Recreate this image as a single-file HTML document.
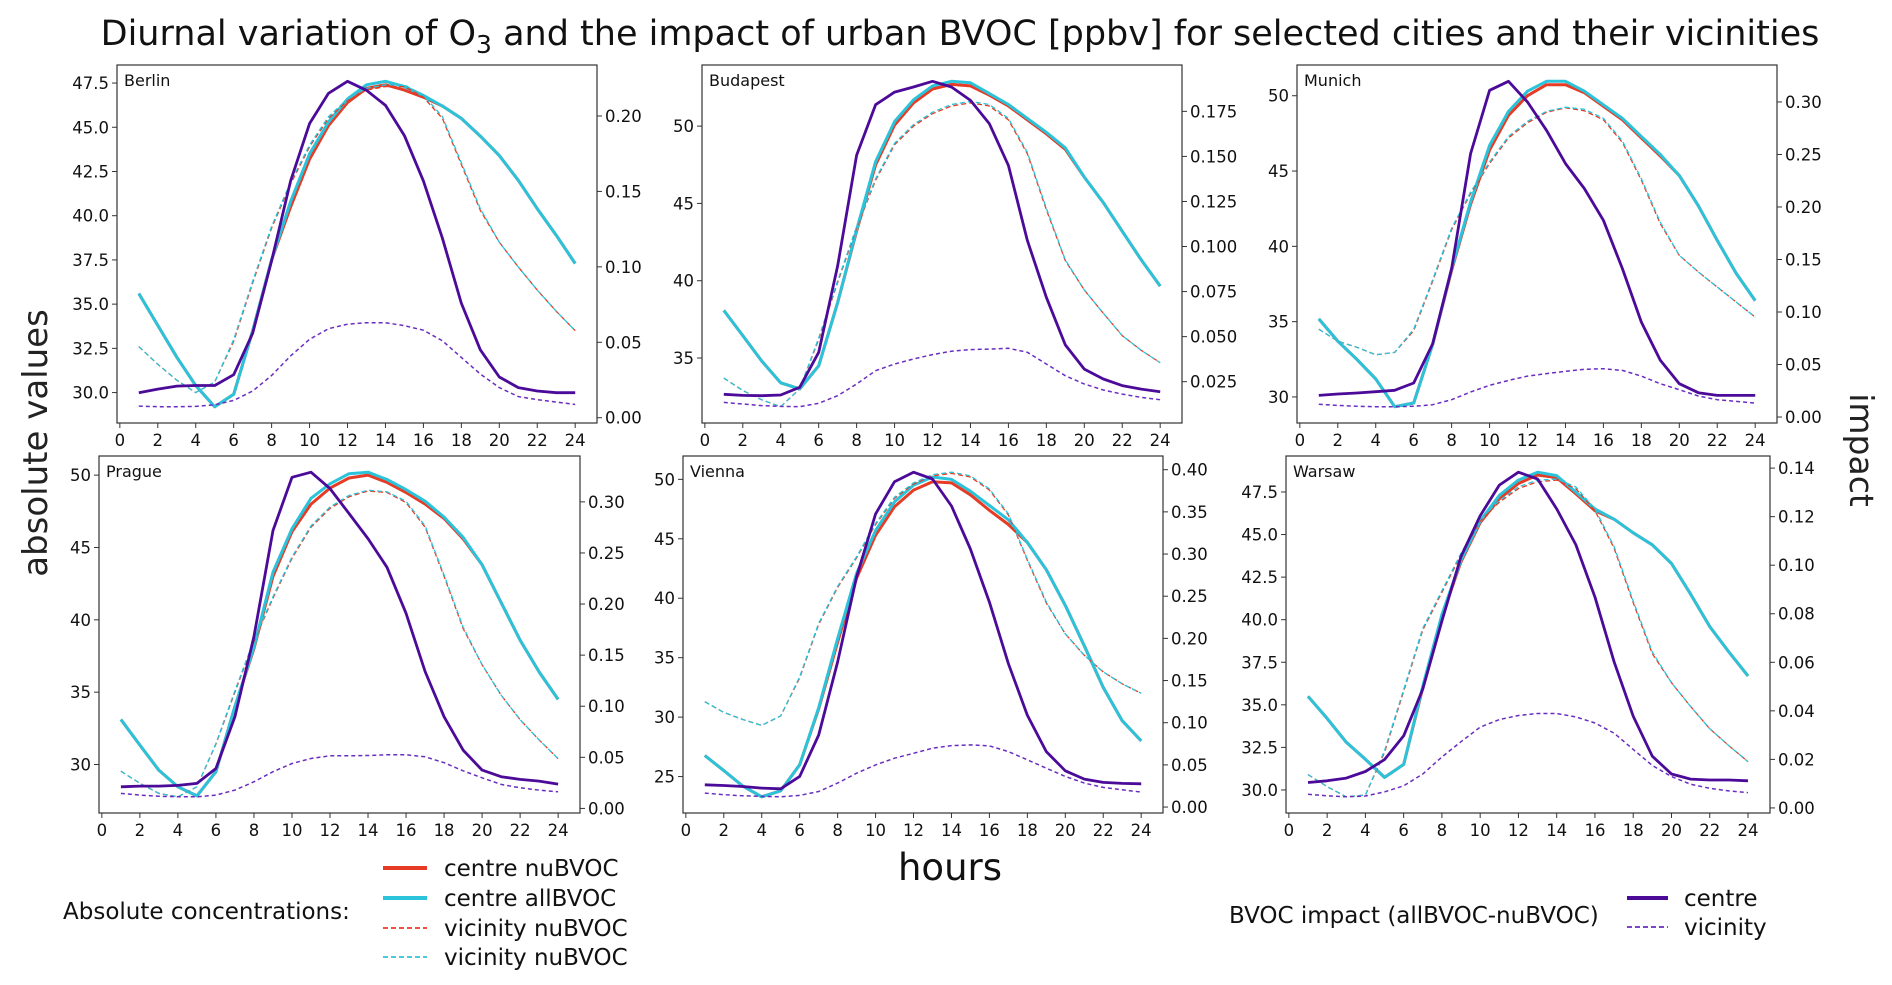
<!DOCTYPE html>
<html><head><meta charset="utf-8"><style>
body{margin:0;background:#fff;}
svg{display:block;font-family:"DejaVu Sans","Liberation Sans",sans-serif;}
</style></head><body>
<svg id="fig" width="1892" height="985" viewBox="0 0 1892 985" xmlns="http://www.w3.org/2000/svg">
<text x="960" y="45" font-size="35" text-anchor="middle" fill="#111">Diurnal variation of O<tspan font-size="25" dy="8">3</tspan><tspan dy="-8"> and the impact of urban BVOC [ppbv] for selected cities and their vicinities</tspan></text>
<text transform="translate(47,443) rotate(-90)" font-size="34" text-anchor="middle" fill="#222">absolute values</text>
<text transform="translate(1850,450) rotate(90)" font-size="33" text-anchor="middle" fill="#222">impact</text>
<text x="950" y="880" font-size="37" text-anchor="middle" fill="#111">hours</text>
<g>
<text x="63" y="919" font-size="23" fill="#111">Absolute concentrations:</text>
<g><line x1="383" y1="868" x2="427" y2="868" stroke="#e63b24" stroke-width="4"/><text x="444" y="876" font-size="23" fill="#111">centre nuBVOC</text></g>
<g><line x1="383" y1="898" x2="427" y2="898" stroke="#2bc3da" stroke-width="4"/><text x="444" y="906" font-size="23" fill="#111">centre allBVOC</text></g>
<g><line x1="383" y1="928" x2="427" y2="928" stroke="#e63b24" stroke-width="1.8" stroke-dasharray="5,3"/><text x="444" y="936" font-size="23" fill="#111">vicinity nuBVOC</text></g>
<g><line x1="383" y1="957" x2="427" y2="957" stroke="#2bc3da" stroke-width="1.8" stroke-dasharray="5,3"/><text x="444" y="965" font-size="23" fill="#111">vicinity nuBVOC</text></g>
</g>
<g>
<text x="1229" y="923" font-size="23" fill="#111">BVOC impact (allBVOC-nuBVOC)</text>
<g><line x1="1627" y1="898" x2="1668" y2="898" stroke="#4c0a99" stroke-width="4"/><text x="1684" y="906" font-size="23" fill="#111">centre</text></g>
<g><line x1="1627" y1="927" x2="1668" y2="927" stroke="#6a2dc0" stroke-width="1.8" stroke-dasharray="5,3"/><text x="1684" y="935" font-size="23" fill="#111">vicinity</text></g>
</g>
</svg>
<script>
const hours = [1,2,3,4,5,6,7,8,9,10,11,12,13,14,15,16,17,18,19,20,21,22,23,24];
const xTicks = [0,2,4,6,8,10,12,14,16,18,20,22,24];
const cities = ["Berlin","Budapest","Munich","Prague","Vienna","Warsaw"];

const berlinCentreAll = [35.6,33.8,32.0,30.4,29.2,29.9,33.5,37.5,40.8,43.5,45.3,46.6,47.4,47.6,47.3,46.8,46.2,45.5,44.5,43.4,42.0,40.4,38.9,37.3];
const berlinCentreNu  = [35.6,33.8,32.0,30.4,29.2,29.9,33.5,37.5,40.5,43.2,45.1,46.4,47.2,47.4,47.1,46.7,46.2,45.5,44.5,43.4,42.0,40.4,38.9,37.3];
const berlinVicAll    = [32.6,31.6,30.7,30.0,30.6,33.0,36.3,39.4,41.9,44.0,45.6,46.6,47.2,47.4,47.4,46.8,45.6,43.0,40.4,38.5,37.1,35.8,34.6,33.5];
const berlinVicNu     = [32.6,31.6,30.7,30.0,30.6,32.9,36.2,39.3,41.8,43.9,45.5,46.5,47.1,47.3,47.3,46.7,45.5,42.9,40.3,38.5,37.1,35.8,34.6,33.5];
const berlinImpCentre = [0.0166,0.019,0.021,0.0214,0.0214,0.0285,0.056,0.104,0.157,0.195,0.215,0.223,0.217,0.207,0.187,0.157,0.119,0.076,0.045,0.027,0.020,0.0177,0.0166,0.0166];
const berlinImpVic    = [0.0077,0.0073,0.0073,0.0075,0.0086,0.0115,0.0177,0.028,0.041,0.052,0.059,0.062,0.063,0.063,0.061,0.058,0.051,0.040,0.029,0.020,0.014,0.012,0.0104,0.0088];

const budapestCentreAll = [38.08,36.45,34.8,33.4,33.0,34.5,38.6,43.3,47.7,50.3,51.7,52.6,52.9,52.8,52.1,51.4,50.5,49.6,48.6,46.7,45.05,43.2,41.35,39.65];
const budapestCentreNu  = [38.08,36.45,34.8,33.4,33.0,34.5,38.6,43.2,47.5,50.07,51.5,52.4,52.7,52.6,52.0,51.3,50.4,49.5,48.5,46.7,45.05,43.2,41.35,39.65];
const budapestVicAll    = [33.7,32.9,32.3,31.85,33.0,36.3,40.0,43.5,46.6,48.9,50.1,50.9,51.4,51.6,51.4,50.5,48.3,44.7,41.35,39.4,37.9,36.45,35.5,34.7];
const budapestVicNu     = [33.7,32.9,32.3,31.85,33.0,36.2,39.9,43.4,46.5,48.8,50.0,50.8,51.3,51.5,51.3,50.4,48.2,44.6,41.3,39.4,37.9,36.45,35.5,34.7];
const budapestImpCentre = [0.018,0.0174,0.0172,0.0176,0.0219,0.0413,0.0894,0.1506,0.1787,0.1857,0.1885,0.1917,0.1885,0.1811,0.1681,0.145,0.1033,0.0719,0.0454,0.032,0.0265,0.0228,0.0209,0.0194];
const budapestImpVic    = [0.0135,0.0126,0.0117,0.0113,0.0111,0.013,0.0172,0.0237,0.0311,0.0348,0.0376,0.040,0.0419,0.0428,0.0431,0.0435,0.0413,0.0348,0.0283,0.0237,0.0204,0.0181,0.0163,0.015];

const munichCentreAll = [35.18,33.7,32.5,31.2,29.35,29.6,33.5,38.5,42.96,46.7,48.96,50.3,50.96,50.96,50.3,49.4,48.5,47.3,46.1,44.7,42.7,40.4,38.2,36.4];
const munichCentreNu  = [35.18,33.7,32.5,31.2,29.35,29.6,33.5,38.4,42.8,46.4,48.7,50.0,50.73,50.73,50.2,49.3,48.4,47.2,46.0,44.7,42.7,40.4,38.2,36.4];
const munichVicAll    = [34.5,33.7,33.3,32.8,32.96,34.5,37.8,41.2,43.6,45.6,47.3,48.3,48.96,49.24,49.1,48.5,47.0,44.5,41.6,39.4,38.3,37.3,36.3,35.3];
const munichVicNu     = [34.5,33.7,33.3,32.8,32.96,34.4,37.7,41.1,43.5,45.5,47.2,48.2,48.9,49.2,49.0,48.4,46.9,44.4,41.5,39.4,38.3,37.3,36.3,35.3];
const munichImpCentre = [0.0206,0.0219,0.0229,0.0241,0.0254,0.0324,0.0698,0.1413,0.2508,0.3111,0.3197,0.300,0.273,0.2413,0.2175,0.1873,0.1413,0.0905,0.054,0.0317,0.0232,0.0206,0.0206,0.0206];
const munichImpVic    = [0.0121,0.0111,0.0102,0.0098,0.0098,0.0102,0.0117,0.0165,0.0238,0.0302,0.0349,0.039,0.0413,0.0435,0.0454,0.046,0.0444,0.039,0.0317,0.026,0.020,0.0165,0.0149,0.0133];

const pragueCentreAll = [33.11,31.34,29.6,28.46,27.83,29.5,34.0,38.1,43.3,46.3,48.4,49.4,50.1,50.2,49.7,49.0,48.2,47.1,45.7,43.8,41.2,38.6,36.4,34.5];
const pragueCentreNu  = [33.11,31.34,29.6,28.46,27.83,29.5,34.0,38.0,43.0,46.1,48.0,49.1,49.8,50.0,49.5,48.8,48.0,47.0,45.6,43.8,41.2,38.6,36.4,34.5];
const pragueVicAll    = [29.54,28.7,28.0,27.77,28.46,31.45,35.1,38.6,41.6,44.35,46.5,47.8,48.6,48.96,48.85,48.2,46.5,43.1,39.5,36.9,34.8,33.1,31.7,30.4];
const pragueVicNu     = [29.54,28.7,28.0,27.77,28.46,31.4,35.0,38.5,41.5,44.25,46.4,47.7,48.5,48.9,48.8,48.1,46.4,43.0,39.4,36.9,34.8,33.1,31.7,30.4];
const pragueImpCentre = [0.0212,0.0218,0.0218,0.0225,0.0245,0.0391,0.0897,0.168,0.272,0.324,0.329,0.313,0.2886,0.264,0.236,0.191,0.134,0.0897,0.0571,0.0375,0.031,0.0284,0.0267,0.0238];
const pragueImpVic    = [0.0147,0.013,0.012,0.0114,0.0114,0.013,0.0179,0.0261,0.0359,0.044,0.0489,0.0515,0.0515,0.0518,0.0525,0.0525,0.0505,0.0447,0.0368,0.030,0.0235,0.0202,0.0179,0.0163];

const viennaCentreAll = [26.77,25.5,24.2,23.3,23.8,26.0,30.8,36.6,42.1,45.7,48.1,49.5,50.2,50.0,49.0,47.8,46.6,44.7,42.4,39.4,36.0,32.5,29.7,28.0];
const viennaCentreNu  = [26.77,25.5,24.2,23.3,23.8,26.0,30.7,36.3,41.7,45.3,47.7,49.1,49.8,49.7,48.7,47.4,46.2,44.7,42.4,39.4,36.0,32.5,29.7,28.0];
const viennaVicAll    = [31.3,30.4,29.8,29.3,30.1,33.4,37.9,41.0,43.5,46.3,48.5,49.7,50.4,50.6,50.3,49.2,47.1,43.3,39.7,37.0,35.2,33.8,32.8,32.0];
const viennaVicNu     = [31.3,30.4,29.8,29.3,30.1,33.3,37.8,40.9,43.4,46.2,48.4,49.6,50.3,50.5,50.2,49.1,47.0,43.2,39.6,37.0,35.2,33.8,32.8,32.0];
const viennaImpCentre = [0.0264,0.0256,0.0244,0.0225,0.0217,0.0363,0.0855,0.172,0.273,0.3476,0.3858,0.397,0.389,0.357,0.306,0.243,0.170,0.109,0.0658,0.043,0.0331,0.0292,0.028,0.0276];
const viennaImpVic    = [0.0166,0.0146,0.0134,0.0126,0.0122,0.0138,0.0185,0.0284,0.0402,0.050,0.0579,0.0638,0.0698,0.0729,0.0737,0.0725,0.0658,0.056,0.0461,0.0363,0.0284,0.0233,0.0205,0.0177];

const warsawCentreAll = [35.5,34.2,32.8,31.8,30.74,31.5,36.1,40.3,43.5,45.8,47.3,48.2,48.66,48.46,47.5,46.5,45.9,45.1,44.4,43.3,41.5,39.6,38.1,36.7];
const warsawCentreNu  = [35.5,34.2,32.8,31.8,30.74,31.5,36.0,40.2,43.4,45.7,47.1,48.0,48.5,48.34,47.4,46.4,45.9,45.1,44.4,43.3,41.5,39.6,38.1,36.7];
const warsawVicAll    = [30.9,30.2,29.6,29.7,32.3,35.9,39.5,41.7,43.9,45.9,47.0,47.8,48.2,48.26,47.8,46.5,44.3,41.1,38.1,36.3,34.9,33.6,32.6,31.66];
const warsawVicNu     = [30.9,30.2,29.6,29.7,32.2,35.8,39.4,41.6,43.8,45.8,46.9,47.7,48.1,48.2,47.7,46.4,44.2,41.0,38.0,36.3,34.9,33.6,32.6,31.66];
const warsawImpCentre = [0.0105,0.0112,0.0123,0.015,0.0199,0.0297,0.049,0.077,0.1036,0.1204,0.133,0.1383,0.1355,0.1232,0.1085,0.0868,0.0602,0.0378,0.0213,0.014,0.0119,0.0115,0.0115,0.0112];
const warsawImpVic    = [0.0056,0.005,0.0046,0.0049,0.0066,0.0091,0.014,0.021,0.0273,0.0333,0.0364,0.0381,0.0389,0.0389,0.0375,0.035,0.0308,0.0241,0.0175,0.0129,0.0098,0.0081,0.007,0.0063];

const berlinLeftTicks = ["30.0","32.5","35.0","37.5","40.0","42.5","45.0","47.5"];
const berlinRightTicks = ["0.00","0.05","0.10","0.15","0.20"];
const budapestLeftTicks = ["35","40","45","50"];
const budapestRightTicks = ["0.025","0.050","0.075","0.100","0.125","0.150","0.175"];
const munichLeftTicks = ["30","35","40","45","50"];
const munichRightTicks = ["0.00","0.05","0.10","0.15","0.20","0.25","0.30"];
const pragueLeftTicks = ["30","35","40","45","50"];
const pragueRightTicks = ["0.00","0.05","0.10","0.15","0.20","0.25","0.30"];
const viennaLeftTicks = ["25","30","35","40","45","50"];
const viennaRightTicks = ["0.00","0.05","0.10","0.15","0.20","0.25","0.30","0.35","0.40"];
const warsawLeftTicks = ["30.0","32.5","35.0","37.5","40.0","42.5","45.0","47.5"];
const warsawRightTicks = ["0.00","0.02","0.04","0.06","0.08","0.10","0.12","0.14"];

const panels = [
 {name:"Berlin", box:[117,65,480,358], ca:berlinCentreAll, cn:berlinCentreNu, va:berlinVicAll, vn:berlinVicNu, ic:berlinImpCentre, iv:berlinImpVic, lt:berlinLeftTicks, rt:berlinRightTicks},
 {name:"Budapest", box:[702,65,480,358], ca:budapestCentreAll, cn:budapestCentreNu, va:budapestVicAll, vn:budapestVicNu, ic:budapestImpCentre, iv:budapestImpVic, lt:budapestLeftTicks, rt:budapestRightTicks},
 {name:"Munich", box:[1297,65,480,358], ca:munichCentreAll, cn:munichCentreNu, va:munichVicAll, vn:munichVicNu, ic:munichImpCentre, iv:munichImpVic, lt:munichLeftTicks, rt:munichRightTicks},
 {name:"Prague", box:[99,456,481,357], ca:pragueCentreAll, cn:pragueCentreNu, va:pragueVicAll, vn:pragueVicNu, ic:pragueImpCentre, iv:pragueImpVic, lt:pragueLeftTicks, rt:pragueRightTicks},
 {name:"Vienna", box:[683,456,480,357], ca:viennaCentreAll, cn:viennaCentreNu, va:viennaVicAll, vn:viennaVicNu, ic:viennaImpCentre, iv:viennaImpVic, lt:viennaLeftTicks, rt:viennaRightTicks},
 {name:"Warsaw", box:[1286,456,484,357], ca:warsawCentreAll, cn:warsawCentreNu, va:warsawVicAll, vn:warsawVicNu, ic:warsawImpCentre, iv:warsawImpVic, lt:warsawLeftTicks, rt:warsawRightTicks}
];

const NS = "http://www.w3.org/2000/svg";
const svg = document.getElementById("fig");
function mk(tag, attrs, parent){
  const e = document.createElementNS(NS, tag);
  for (const k in attrs) e.setAttribute(k, attrs[k]);
  parent.appendChild(e);
  return e;
}
function lims(arrs){
  let mn = Infinity, mx = -Infinity;
  arrs.forEach(a => a.forEach(v => { if (v < mn) mn = v; if (v > mx) mx = v; }));
  const m = (mx - mn) * 0.05;
  return [mn - m, mx + m];
}

panels.forEach(p => {
  const slug = p.name.toLowerCase();
  const [L, T, W, H] = p.box;
  const g = mk("g", {}, svg);
  
  
  const x0 = hours[0] - 0.05 * (hours[hours.length-1] - hours[0]);
  const x1 = hours[hours.length-1] + 0.05 * (hours[hours.length-1] - hours[0]);
  const xs = v => L + (v - x0) / (x1 - x0) * W;
  const [ly0, ly1] = lims([p.ca, p.cn, p.va, p.vn]);
  const ys = v => T + H - (v - ly0) / (ly1 - ly0) * H;
  const [ry0, ry1] = lims([p.ic, p.iv]);
  const rs = v => T + H - (v - ry0) / (ry1 - ry0) * H;

  const clipId = "clip-" + slug;
  const cp = mk("clipPath", {id: clipId}, g);
  mk("rect", {x: L, y: T, width: W, height: H}, cp);

  function series(arr, scale, color, width, dash, name){
    const pts = arr.map((v, i) => xs(hours[i]).toFixed(1) + "," + scale(v).toFixed(1)).join(" ");
    const pl = mk("polyline", {points: pts, fill: "none", stroke: color, "stroke-width": width, "stroke-linejoin": "round", "clip-path": "url(#" + clipId + ")"}, g);
    if (dash) pl.setAttribute("stroke-dasharray", dash);
    
    
  }
  series(p.cn, ys, "#e63b24", 3, null, "centre-nubvoc-line");
  series(p.ca, ys, "#2bc3da", 3, null, "centre-allbvoc-line");
  series(p.vn, ys, "#e63b24", 1.3, "5,3", "vicinity-nubvoc-line");
  series(p.va, ys, "#2bc3da", 1.3, "5,3", "vicinity-allbvoc-line");
  series(p.ic, rs, "#4c0a99", 2.8, null, "impact-centre-line");
  series(p.iv, rs, "#6a2dc0", 1.5, "4,3", "impact-vicinity-line");

  const frame = mk("rect", {x: L, y: T, width: W, height: H, fill: "none", stroke: "#333", "stroke-width": 1.2}, g);
  
  

  const lbl = mk("text", {x: L + 7, y: T + 21, "font-size": 16, fill: "#111"}, g);
  lbl.textContent = p.name;
  
  

  const xa = mk("g", {}, g);
  
  
  xTicks.forEach(t => {
    const x = xs(t);
    mk("line", {x1: x, y1: T + H, x2: x, y2: T + H + 5, stroke: "#333", "stroke-width": 1}, xa);
    const tx = mk("text", {x: x, y: T + H + 23, "font-size": 16.5, "text-anchor": "middle", fill: "#111"}, xa);
    tx.textContent = t;
  });

  const ya = mk("g", {}, g);
  
  
  p.lt.forEach(s => {
    const y = ys(parseFloat(s));
    mk("line", {x1: L - 5, y1: y, x2: L, y2: y, stroke: "#333", "stroke-width": 1}, ya);
    const tx = mk("text", {x: L - 8, y: y + 6, "font-size": 16.5, "text-anchor": "end", fill: "#111"}, ya);
    tx.textContent = s;
  });

  const ra = mk("g", {}, g);
  
  
  p.rt.forEach(s => {
    const y = rs(parseFloat(s));
    mk("line", {x1: L + W, y1: y, x2: L + W + 5, y2: y, stroke: "#333", "stroke-width": 1}, ra);
    const tx = mk("text", {x: L + W + 8, y: y + 6, "font-size": 16.5, "text-anchor": "start", fill: "#111"}, ra);
    tx.textContent = s;
  });
});
</script>
</body></html>
